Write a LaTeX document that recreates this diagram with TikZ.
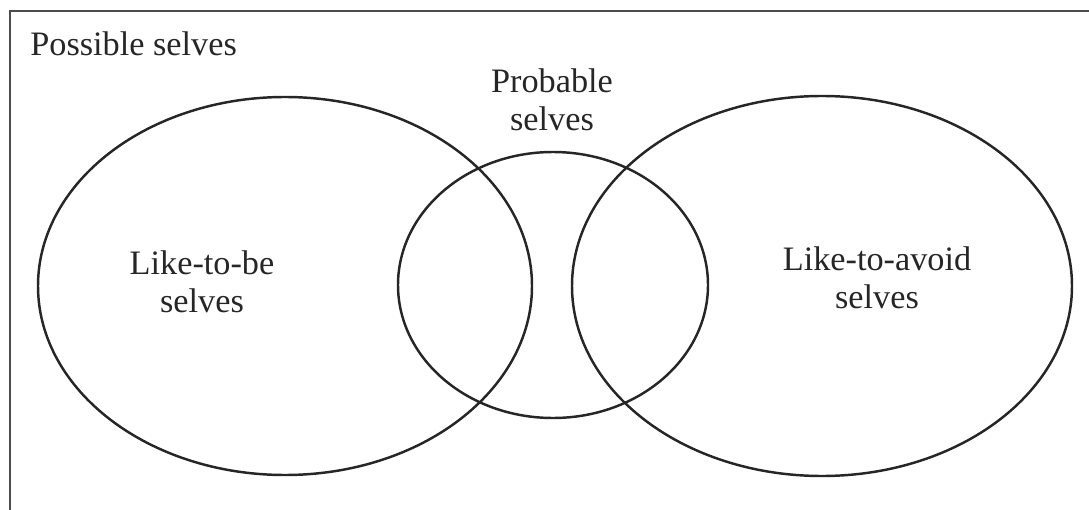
\documentclass[tikz,border=0pt]{standalone}
\usepackage{fontspec}
\setmainfont{Liberation Serif}
\begin{document}
\begin{tikzpicture}[
x=0.02cm,y=-0.02cm,
every node/.style={
font=\fontsize{19.5}{21.9}\selectfont,
align=center,
inner sep=0pt,
text=black!85
},
ring/.style={
draw=black!85,
line width=1.4pt
}
]
\useasboundingbox (0,0) rectangle (1089,510);

% frame
\draw[black!70,line width=1.4pt] (10,510) -- (10,11) -- (1089,11);

\node[anchor=base west] (P) at (30,56)
{Possible selves};

% the three sets
\draw[ring] (285,286) ellipse (247 and 189);
\draw[ring] (553,285) ellipse (155 and 133);
\draw[ring] (822,286) ellipse (250 and 190);

\node (B) at (552,100)
{Probable\\selves};

\node (L) at (202,282)
{Like-to-be\\selves};

\node (A) at (877,278)
{Like-to-avoid\\selves};

\end{tikzpicture}
\end{document}
